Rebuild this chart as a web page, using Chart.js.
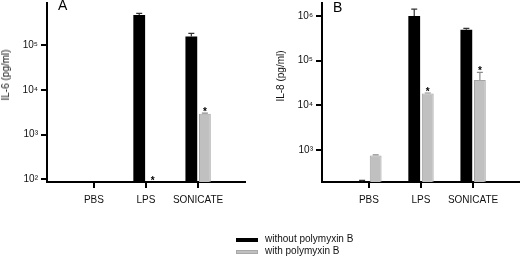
<!DOCTYPE html>
<html><head><meta charset="utf-8">
<script src="https://cdn.jsdelivr.net/npm/chart.js@4.4.1/dist/chart.umd.min.js"></script>
<style>
html,body{margin:0;padding:0;background:#fff;}
body{width:520px;height:260px;position:relative;overflow:hidden;font-family:"Liberation Sans",Arial,sans-serif;color:#000;}
canvas{position:absolute;top:0;}
#cA{left:0}
#cB{left:260px}
.lbl{position:absolute;font-size:14px;line-height:14px;}
.ytitle{position:absolute;font-size:10px;line-height:10px;white-space:nowrap;transform:translate(-50%,-50%) rotate(-90deg);color:#111;}
.box{position:absolute;left:236px;width:22px;height:4px;}
.legtxt{position:absolute;left:265px;font-size:10px;line-height:12px;white-space:nowrap;color:#111;}
</style></head>
<body>
<canvas id="cA" width="260" height="215"></canvas>
<canvas id="cB" width="260" height="215"></canvas>
<div class="lbl" style="left:58px;top:-2px">A</div>
<div class="lbl" style="left:333px;top:0px">B</div>
<div class="ytitle" style="left:6px;top:75px">IL-6 (pg/ml)</div>
<div class="ytitle" style="left:281px;top:76px">IL-8 (pg/ml)</div>
<div class="box" style="top:238px;background:#000"></div>
<div class="legtxt" style="top:232.5px">without polymyxin B</div>
<div class="box" style="top:250px;background:#c0c0c0;box-sizing:border-box;border:0.5px solid #a8a8a8"></div>
<div class="legtxt" style="top:245px">with polymyxin B</div>
<script>
// ---- data ----
const categories = ['PBS', 'LPS', 'SONICATE'];
const positions = [1, 2, 3];
const seriesNames = ['without polymyxin B', 'with polymyxin B'];

// Panel A: IL-6 (pg/ml)
const il6Without    = [null, 4.7e5, 1.55e5];
const il6WithoutErr = [null, 5.1e5, 1.83e5];
const il6With       = [null, null, 2900];
const il6WithErr    = [null, null, 3000];
const il6Stars      = [false, true, true];
const il6Ticks      = [1e2, 1e3, 1e4, 1e5];

// Panel B: IL-8 (pg/ml)
const il8Without    = [200, 1.0e6, 4.9e5];
const il8WithoutErr = [212, 1.43e6, 5.3e5];
const il8With       = [760, 1.85e4, 3.7e4];
const il8WithErr    = [785, 1.9e4, 5.5e4];
const il8Stars      = [false, true, true];
const il8Ticks      = [1e3, 1e4, 1e5, 1e6];

// ---- helpers ----
const FONT = '"Liberation Sans", Arial, sans-serif';
const SUP = {'2':'\u00B2','3':'\u00B3','4':'\u2074','5':'\u2075','6':'\u2076'};
function fmtPow(v){ const e = Math.round(Math.log10(v)); return '10' + SUP[String(e)]; }
function pts(arr){ return positions.map((p,i)=>({x:p, y:arr[i]})); }

const errPlugin = {
  id: 'errbars',
  afterDatasetsDraw(chart){
    const ctx = chart.ctx, ys = chart.scales.y;
    chart.data.datasets.forEach((ds, di) => {
      const meta = chart.getDatasetMeta(di);
      meta.data.forEach((el, i) => {
        let top = el.y;
        const e = ds.errHigh ? ds.errHigh[i] : null;
        if (e != null) {
          const ey = ys.getPixelForValue(e);
          ctx.save();
          ctx.strokeStyle = ds.errColor; ctx.lineWidth = 1.2;
          ctx.beginPath();
          ctx.moveTo(el.x, el.y); ctx.lineTo(el.x, ey);
          ctx.moveTo(el.x - 3, ey); ctx.lineTo(el.x + 3, ey);
          ctx.stroke(); ctx.restore();
          top = Math.min(top, ey);
        }
        if (ds.stars && ds.stars[i]) {
          ctx.save();
          ctx.fillStyle = '#000';
          ctx.font = 'bold 10px ' + FONT;
          ctx.textAlign = 'center'; ctx.textBaseline = 'alphabetic';
          ctx.fillText('*', el.x, top + 1.5);
          ctx.restore();
        }
      });
    });
  }
};

function makeChart(id, cfg){
  return new Chart(document.getElementById(id), {
    type: 'bar',
    data: {
      datasets: [
        { label: seriesNames[0], data: pts(cfg.without), errHigh: cfg.withoutErr, errColor: '#333',
          backgroundColor: '#000', borderWidth: 0 },
        { label: seriesNames[1], data: pts(cfg.withV), errHigh: cfg.withErr, errColor: '#8a8a8a', stars: cfg.stars,
          backgroundColor: '#c0c0c0', borderColor: '#a4a4a4', borderWidth: 1 }
      ]
    },
    options: {
      responsive: false, animation: false, devicePixelRatio: 1,
      categoryPercentage: 0.52, barPercentage: 0.87,
      layout: { padding: { top: 3, right: cfg.padRight, left: 0, bottom: 0 } },
      plugins: { legend: { display: false }, tooltip: { enabled: false } },
      scales: {
        x: {
          type: 'linear', min: 0.1, max: 3.9, offset: false, bounds: 'data',
          afterBuildTicks: s => { s.ticks = positions.map(v => ({ value: v })); },
          afterFit: s => { s.height = 33; s.paddingLeft = 0; s.paddingRight = 0; },
          border: { display: true, color: '#000', width: 2 },
          grid: { drawOnChartArea: false, drawTicks: true, tickLength: 6, color: '#000', lineWidth: 2, offset: false },
          ticks: { padding: 6, maxRotation: 0, autoSkip: false, color: '#111', font: { size: 10, family: FONT },
                   callback: v => categories[Math.round(v) - 1] }
        },
        y: {
          type: 'logarithmic', min: cfg.min, max: cfg.max,
          afterBuildTicks: s => { s.ticks = cfg.ticks.map(v => ({ value: v })); },
          afterFit: s => { s.width = cfg.yWidth; s.paddingTop = 0; s.paddingBottom = 0; },
          border: { display: true, color: '#000', width: 2 },
          grid: { drawOnChartArea: false, drawTicks: true, tickLength: 6, color: '#000', lineWidth: 2 },
          ticks: { padding: 3, color: '#111', font: { size: 10, family: FONT }, callback: v => fmtPow(v) }
        }
      }
    },
    plugins: [errPlugin]
  });
}

makeChart('cA', { without: il6Without, withoutErr: il6WithoutErr, withV: il6With, withErr: il6WithErr,
  stars: il6Stars, ticks: il6Ticks, min: 87, max: 8.7e5, yWidth: 47, padRight: 15 });
makeChart('cB', { without: il8Without, withoutErr: il8WithoutErr, withV: il8With, withErr: il8WithErr,
  stars: il8Stars, ticks: il8Ticks, min: 195, max: 1.95e6, yWidth: 62, padRight: 0 });
</script>
</body></html>
